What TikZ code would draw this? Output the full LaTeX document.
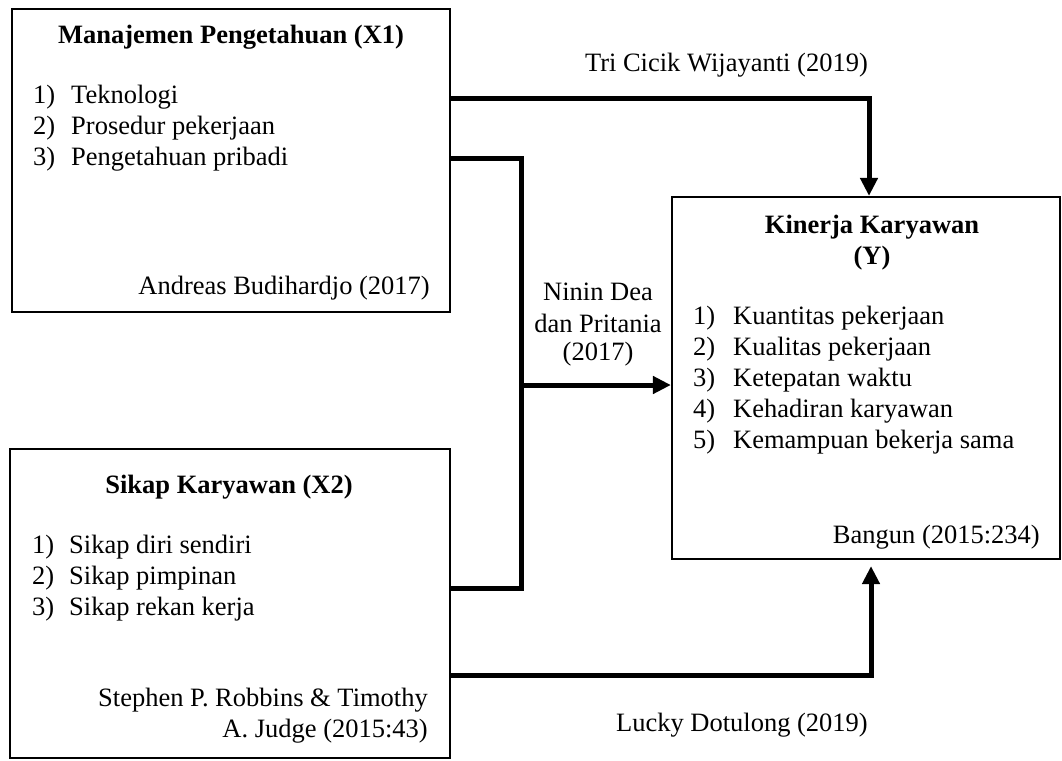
\documentclass[tikz,border=0pt]{standalone}
\usepackage{fontspec}
\setmainfont{Liberation Serif}
\usetikzlibrary{arrows.meta}
\tikzset{
  txt/.style={inner sep=0pt, font=\fontsize{26.5}{31}\selectfont},
  ttl/.style={txt, font=\fontsize{26.5}{31}\selectfont\bfseries},
  boxnode/.style={draw, line width=2.2pt, inner sep=0pt},
  conn/.style={line width=5pt, line join=miter},
  tip/.style={-{Triangle[width=17pt,length=18pt]}}
}
\begin{document}
\begin{tikzpicture}[x=1pt,y=-1pt]
\useasboundingbox (0,0) rectangle (1062,760);
% boxes
\node[boxnode, minimum width=438pt, minimum height=303pt] (x1) at (231,160.5) {};
\node[boxnode, minimum width=440pt, minimum height=309pt] (x2) at (230,603.5) {};
\node[boxnode, minimum width=388pt, minimum height=362pt] (yb) at (866,378) {};
% X1 texts
\node[ttl] (x1t) at (231,37) {Manajemen Pengetahuan (X1)};
\node[txt, anchor=west] (x1n1) at (33,97) {1)};
\node[txt, anchor=west] (x1i1) at (71,97) {Teknologi};
\node[txt, anchor=west] (x1n2) at (33,128) {2)};
\node[txt, anchor=west] (x1i2) at (71,128) {Prosedur pekerjaan};
\node[txt, anchor=west] (x1n3) at (33,159) {3)};
\node[txt, anchor=west] (x1i3) at (71,159) {Pengetahuan pribadi};
\node[txt, anchor=east] (x1s) at (430,288) {Andreas Budihardjo (2017)};
% X2 texts
\node[ttl] (x2t) at (229,487) {Sikap Karyawan (X2)};
\node[txt, anchor=west] (x2n1) at (32,547) {1)};
\node[txt, anchor=west] (x2i1) at (69,547) {Sikap diri sendiri};
\node[txt, anchor=west] (x2n2) at (32,578) {2)};
\node[txt, anchor=west] (x2i2) at (69,578) {Sikap pimpinan};
\node[txt, anchor=west] (x2n3) at (32,609) {3)};
\node[txt, anchor=west] (x2i3) at (69,609) {Sikap rekan kerja};
\node[txt, anchor=east] (x2s1) at (428,700) {Stephen P. Robbins \& Timothy};
\node[txt, anchor=east] (x2s2) at (428,731) {A. Judge (2015:43)};
% Y texts
\node[ttl] (yt1) at (872,227) {Kinerja Karyawan};
\node[ttl] (yt2) at (872,258) {(Y)};
\node[txt, anchor=west] (yn1) at (693,318) {1)};
\node[txt, anchor=west] (yi1) at (733,318) {Kuantitas pekerjaan};
\node[txt, anchor=west] (yn2) at (693,349) {2)};
\node[txt, anchor=west] (yi2) at (733,349) {Kualitas pekerjaan};
\node[txt, anchor=west] (yn3) at (693,380) {3)};
\node[txt, anchor=west] (yi3) at (733,380) {Ketepatan waktu};
\node[txt, anchor=west] (yn4) at (693,411) {4)};
\node[txt, anchor=west] (yi4) at (733,411) {Kehadiran karyawan};
\node[txt, anchor=west] (yn5) at (693,442) {5)};
\node[txt, anchor=west] (yi5) at (733,442) {Kemampuan bekerja sama};
\node[txt, anchor=east] (ys) at (1040,537) {Bangun (2015:234)};
% connector labels
\node[txt, anchor=east] (l1) at (868,65) {Tri Cicik Wijayanti (2019)};
\node[txt] (l2a) at (598,292) {Ninin Dea};
\node[txt] (l2b) at (598,323) {dan Pritania};
\node[txt] (l2c) at (598,354) {(2017)};
\node[txt, anchor=east] (l3) at (868,725) {Lucky Dotulong (2019)};
% connectors
\coordinate (j) at (521,385);
\draw[conn, tip] ([yshift=-91pt]x1.north east) -| ([xshift=3pt]yb.north);
\draw[conn] ([yshift=-151pt]x1.north east) -| (j);
\draw[conn] ([yshift=-141pt]x2.north east) -| (j);
\draw[conn, tip] (j) -- (yb.west |- j);
\draw[conn, tip] ([yshift=-228pt]x2.north east) -| ([xshift=5pt,yshift=-6pt]yb.south);
\end{tikzpicture}
\end{document}
